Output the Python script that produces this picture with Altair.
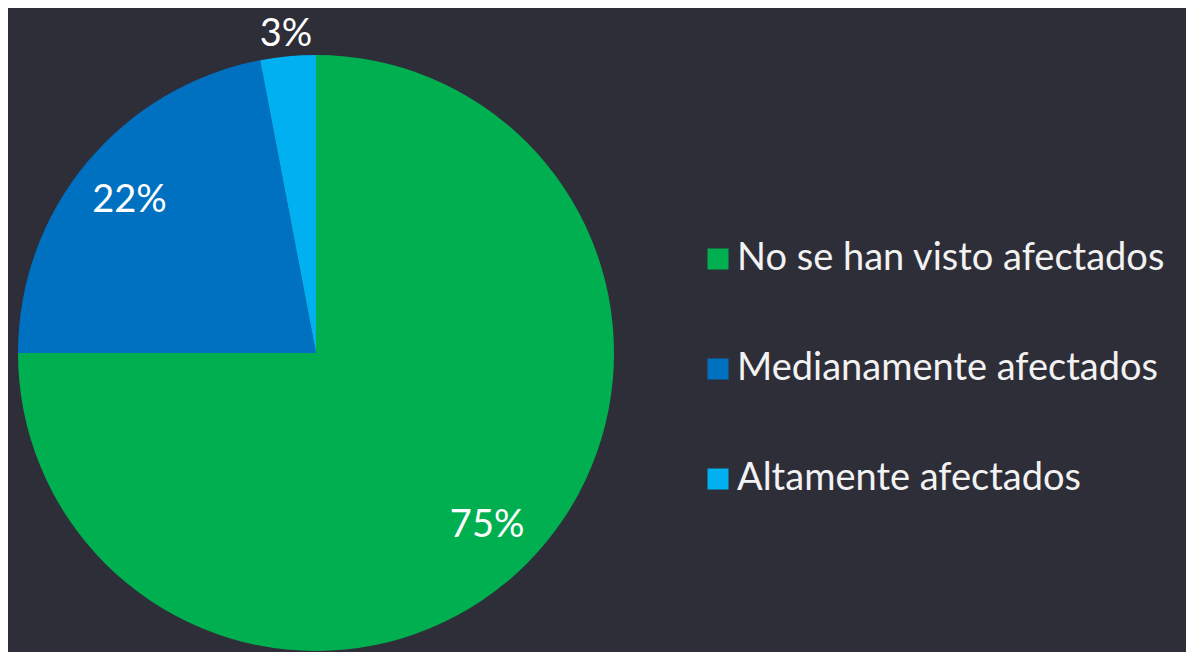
import altair as alt
import pandas as pd

categories = ["No se han visto afectados", "Medianamente afectados", "Altamente afectados"]
values = [75, 22, 3]
labels = ["75%", "22%", "3%"]
colors = ["#00b050", "#0070c0", "#00b0f0"]
inside = [True, True, False]

df = pd.DataFrame({
    "cat": categories,
    "value": values,
    "label": labels,
    "order": list(range(len(categories))),
    "inside": inside,
})

FONT = "Lato"
BG = "#2e2e38"
CX, CY, R = 308, 345, 298

base = alt.Chart(df).encode(
    theta=alt.Theta("value:Q", stack=True),
    order=alt.Order("order:Q"),
)

arc = base.mark_arc(outerRadius=R, stroke=None).encode(
    x=alt.value(CX),
    y=alt.value(CY),
    color=alt.Color(
        "cat:N",
        scale=alt.Scale(domain=categories, range=colors),
        sort=categories,
        legend=alt.Legend(
            title=None,
            orient="none",
            legendX=691,
            legendY=232,
            symbolType="square",
            symbolSize=441,
            symbolStrokeWidth=0,
            labelFontSize=38,
            labelFont=FONT,
            labelColor="#f2f2f2",
            labelOffset=0,
            rowPadding=72,
            labelLimit=600,
        ),
    ),
)

text_in = base.mark_text(
    font=FONT, fontSize=38, color="#ffffff", align="center", baseline="middle",
    radius=242, dy=2,
).encode(
    x=alt.value(CX),
    y=alt.value(CY),
    text=alt.condition("datum.inside", alt.Text("label:N"), alt.value("")),
)

text_out = base.mark_text(
    font=FONT, fontSize=38, color="#ffffff", align="center", baseline="middle",
    radius=319,
).encode(
    x=alt.value(CX),
    y=alt.value(CY),
    text=alt.condition("datum.inside", alt.value(""), alt.Text("label:N")),
)

chart = alt.layer(arc, text_in, text_out).properties(
    width=1178, height=644, background=BG, padding=0,
    autosize=alt.AutoSizeParams(type="none"),
).configure_view(stroke=None)

chart.save("out.html", embed_options={"renderer": "svg", "actions": False})
